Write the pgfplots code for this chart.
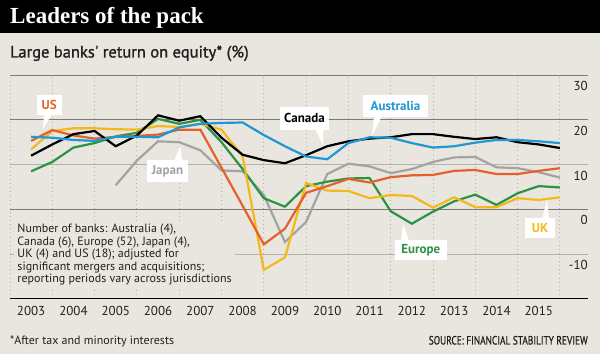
\documentclass[border=0pt]{standalone}
\usepackage{fontspec}
\setmainfont{PT Sans}
\newfontfamily\titlefont{Liberation Serif}
\newfontfamily\subfont[FakeBold=1.2]{PT Sans}
\newfontfamily\srcfont[FakeBold=0.8]{PT Sans}
\usepackage{pgfplots}
\usepackage{pgfplotstable}
\pgfplotsset{compat=1.18}
\definecolor{bg}{HTML}{E9E6DF}
\definecolor{cAus}{HTML}{1F97D4}
\definecolor{cUS}{HTML}{E4612A}
\definecolor{cEur}{HTML}{2E9245}
\definecolor{cUK}{HTML}{F4B81C}
\definecolor{cJap}{HTML}{A3A3A3}
\definecolor{gridd}{HTML}{7C7A76}
\definecolor{gridl}{HTML}{B4B2AD}
\definecolor{txt}{HTML}{231F20}

\pgfplotstableread{
t v
2003.5 12.0
2004.0 14.5
2004.5 16.8
2005.0 17.5
2005.5 14.1
2006.0 16.5
2006.5 21.0
2007.0 19.8
2007.5 20.8
2008.0 16.0
2008.5 12.2
2009.0 11.0
2009.5 10.3
2010.0 12.1
2010.5 14.1
2011.0 15.2
2011.5 15.8
2012.0 16.1
2012.5 16.8
2013.0 16.8
2013.5 16.2
2014.0 15.7
2014.5 16.1
2015.0 15.0
2015.5 14.5
2016.0 13.7
}\canada

\pgfplotstableread{
t v
2003.5 16.2
2004.0 16.0
2004.5 15.5
2005.0 15.3
2005.5 16.2
2006.0 16.2
2006.5 16.1
2007.0 18.3
2007.5 19.1
2008.0 19.3
2008.5 19.4
2009.0 16.6
2009.5 14.1
2010.0 11.8
2010.5 11.2
2011.0 14.8
2011.5 16.1
2012.0 16.0
2012.5 14.8
2013.0 13.8
2013.5 14.1
2014.0 14.9
2014.5 15.5
2015.0 15.5
2015.5 15.2
2016.0 14.8
}\australia

\pgfplotstableread{
t v
2003.5 15.3
2004.0 17.7
2004.5 16.5
2005.0 15.8
2005.5 16.2
2006.0 16.4
2006.5 16.7
2007.0 17.8
2007.5 17.8
2008.0 9.3
2008.5 0.8
2009.0 -7.8
2009.5 -4.3
2010.0 3.7
2010.5 5.2
2011.0 6.8
2011.5 6.0
2012.0 7.2
2012.5 7.6
2013.0 7.7
2013.5 8.6
2014.0 8.8
2014.5 7.9
2015.0 7.9
2015.5 8.6
2016.0 9.2
}\us

\pgfplotstableread{
t v
2003.5 8.5
2004.0 10.6
2004.5 13.8
2005.0 14.8
2005.5 16.3
2006.0 17.1
2006.5 20.2
2007.0 19.1
2007.5 20.0
2008.0 15.0
2008.5 9.0
2009.0 2.5
2009.5 0.6
2010.0 5.2
2010.5 6.2
2011.0 6.9
2011.5 7.0
2012.0 -0.4
2012.5 -3.2
2013.0 -0.5
2013.5 1.8
2014.0 3.3
2014.5 1.0
2015.0 3.6
2015.5 5.2
2016.0 4.9
}\europe

\pgfplotstableread{
t v
2003.5 13.4
2004.0 17.5
2004.5 18.1
2005.0 18.1
2005.5 17.9
2006.0 17.8
2006.5 18.6
2007.0 18.4
2007.5 19.1
2008.0 17.8
2008.5 11.8
2009.0 -13.5
2009.5 -10.7
2010.0 5.9
2010.5 4.2
2011.0 4.1
2011.5 2.5
2012.0 3.2
2012.5 3.0
2013.0 0.4
2013.5 2.7
2014.0 0.5
2014.5 0.5
2015.0 2.5
2015.5 2.1
2016.0 2.7
}\uk

\pgfplotstableread{
t v
2005.5 5.4
2006.0 10.9
2006.5 15.2
2007.0 15.0
2007.5 13.2
2008.0 8.7
2008.5 8.5
2009.0 3.2
2009.5 -7.3
2010.0 -2.8
2010.5 7.9
2011.0 10.2
2011.5 9.6
2012.0 8.1
2012.5 9.0
2013.0 10.6
2013.5 11.6
2014.0 11.7
2014.5 9.4
2015.0 9.2
2015.5 8.3
2016.0 7.1
}\japan

\begin{document}
\begin{tikzpicture}
\useasboundingbox (0,0) rectangle (600bp,354bp);
\fill[bg] (0,0) rectangle (600bp,354bp);
\fill[black] (0,321bp) rectangle (600bp,354bp);
\begin{axis}[
  at={(10bp,55bp)}, anchor=south west, scale only axis,
  width=578bp, height=224bp,
  xmin=2003, xmax=2016.664, ymin=-20, ymax=30,
  axis line style={draw=none},
  tick style={draw=none},
  xtick={2003.5,2004.5,2005.5,2006.5,2007.5,2008.5,2009.5,2010.5,2011.5,2012.5,2013.5,2014.5,2015.5},
  xticklabels={2003,2004,2005,2006,2007,2008,2009,2010,2011,2012,2013,2014,2015},
  minor xtick={2003,2004,2005,2006,2007,2008,2009,2010,2011,2012,2013,2014,2015,2016},
  xminorgrids=true,
  minor grid style={gridl, line width=0.9bp, dash pattern=on 0.9bp off 3.2bp},
  ytick={0,20,30}, yticklabels={0,20,30},
  extra y ticks={-10,10}, extra y tick labels={-10,10},
  ymajorgrids=true,
  major grid style={gridd, line width=0.9bp},
  extra y tick style={major grid style={gridl, line width=0.9bp}},
  yticklabel pos=right,
  yticklabel style={anchor=north east, inner sep=0pt, xshift=0bp, yshift=-6bp,
    font=\fontsize{13bp}{15bp}\selectfont, text=txt},
  xticklabel style={anchor=north, inner sep=0pt, yshift=-7bp,
    font=\fontsize{13bp}{15bp}\selectfont, text=txt},
]
\addplot[no marks, cJap, line width=2.2bp] table {\japan};
\addplot[no marks, cEur, line width=2.2bp] table {\europe};
\addplot[no marks, cUK, line width=2.2bp] table {\uk};
\addplot[no marks, cUS, line width=2.2bp] table {\us};
\addplot[no marks, black, line width=2.2bp] table {\canada};
\addplot[no marks, cAus, line width=2.2bp] table {\australia};
\draw[black, line width=1.3bp] (rel axis cs:0,0) -- (rel axis cs:1,0);
\end{axis}
\begin{scope}[x=1bp, y=-1bp, yshift=354bp]
  \node[anchor=base west, inner sep=0pt, text=white] at (10,24)
    {\titlefont\bfseries\fontsize{23bp}{25bp}\selectfont Leaders of the pack};
  \node[anchor=base west, inner sep=0pt, text=txt] at (10,57.5)
    {\subfont\fontsize{16.5bp}{18bp}\selectfont Large banks' return on equity* (\%)};
  \node[anchor=north west, fill=bg, inner sep=3bp, align=left, text=txt,
    font=\fontsize{12bp}{12.5bp}\selectfont] at (14.3,221)
    {Number of banks: Australia (4),\\Canada (6), Europe (52), Japan (4),\\UK (4) and US (18); adjusted for\\significant mergers and acquisitions;\\reporting periods vary across jurisdictions};
  \node[anchor=base west, inner sep=0pt, text=txt, font=\fontsize{12bp}{14bp}\selectfont] at (10,344.5)
    {*After tax and minority interests};
  \node[anchor=base east, inner sep=0pt, text=txt, font=\srcfont\fontsize{12bp}{14bp}\selectfont] at (588,344.5)
    {\scalebox{0.78}[1]{SOURCE: FINANCIAL STABILITY REVIEW}};
  % label boxes
  \fill[white] (44,114) -- (52,114) -- (43,129) -- cycle;
  \node[fill=white, minimum width=25bp, minimum height=20bp, inner sep=0pt, text=cUS,
    font=\bfseries\fontsize{13bp}{15bp}\selectfont] at (49.2,105) {US};
  \fill[white] (174,161) -- (182,161) -- (180.5,146) -- cycle;
  \node[fill=white, minimum width=41.6bp, minimum height=21.7bp, inner sep=0pt, text=cJap,
    font=\bfseries\fontsize{13bp}{15bp}\selectfont] at (167.5,170.8) {Japan};
  \fill[white] (315,129) -- (323,129) -- (323,145) -- cycle;
  \node[fill=white, minimum width=49bp, minimum height=23.3bp, inner sep=0pt, text=black,
    font=\bfseries\fontsize{13bp}{15bp}\selectfont] at (304.5,118.3) {Canada};
  \fill[white] (374,116) -- (382,116) -- (372,136) -- cycle;
  \node[fill=white, minimum width=65bp, minimum height=21.7bp, inner sep=0pt, text=cAus,
    font=\bfseries\fontsize{13bp}{15bp}\selectfont] at (395.5,105.8) {Australia};
  \fill[white] (401,241) -- (409,241) -- (403,224) -- cycle;
  \node[fill=white, minimum width=51.7bp, minimum height=20bp, inner sep=0pt, text=cEur,
    font=\bfseries\fontsize{13bp}{15bp}\selectfont] at (420.8,250) {Europe};
  \fill[white] (542,219) -- (549,219) -- (547,200) -- cycle;
  \node[fill=white, minimum width=30bp, minimum height=20bp, inner sep=0pt, text=cUK,
    font=\bfseries\fontsize{13bp}{15bp}\selectfont] at (540,228.3) {UK};
\end{scope}
\end{tikzpicture}
\end{document}
